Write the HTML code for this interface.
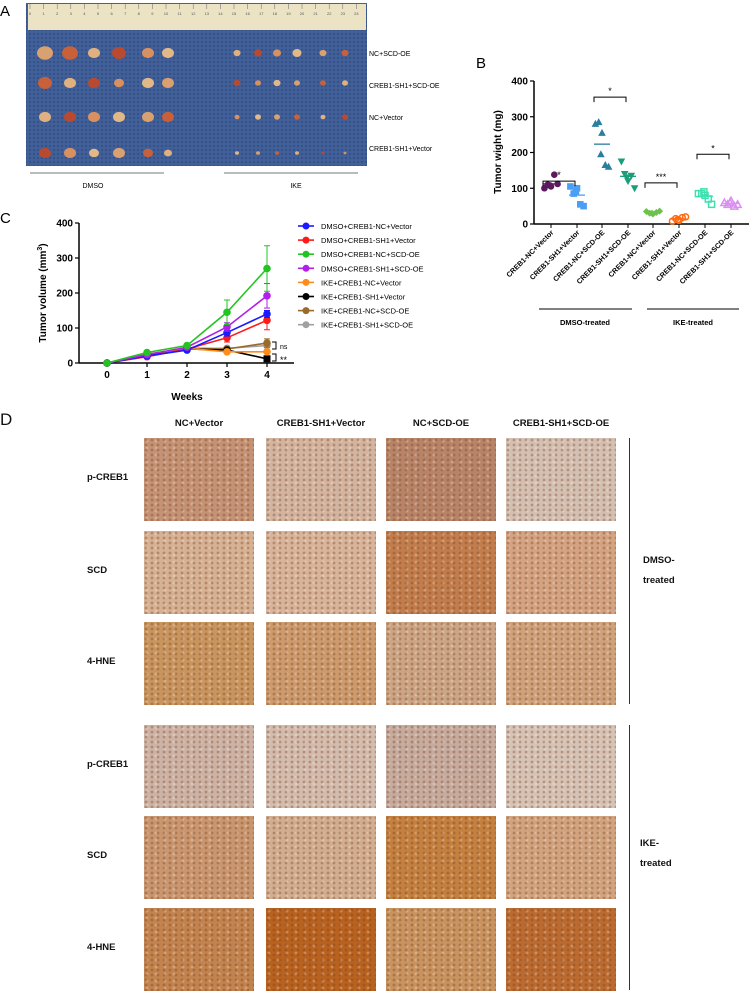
<!DOCTYPE html>
<html><head><meta charset="utf-8"><style>
body{margin:0;background:#fff;font-family:"Liberation Sans",sans-serif}
#fig{position:absolute;left:0;top:0;width:749px;height:991px;overflow:hidden}
.ihc{position:absolute;width:110px;height:83px}
.lbl{position:absolute;font-family:"Liberation Sans",sans-serif;color:#111}
</style></head><body>
<div id="fig">
<svg id="svg" width="749" height="991" style="position:absolute;left:0;top:0">
<defs>
<pattern id="mesh" width="4" height="4" patternUnits="userSpaceOnUse"><rect width="4" height="4" fill="#41609a"/><circle cx="2" cy="2" r="0.9" fill="#2e4677"/></pattern>
<pattern id="dots" width="7" height="6" patternUnits="userSpaceOnUse"><circle cx="2" cy="2" r="1.3" fill="#7a3f1c" opacity="0.35"/><circle cx="5.5" cy="4.5" r="1" fill="#fff" opacity="0.25"/></pattern>
</defs>
<!-- Panel A -->
<g>
<text x="0" y="16" font-size="15" font-family="Liberation Sans">A</text>
<rect x="26" y="3" width="341" height="163" fill="url(#mesh)"/>
<rect x="28" y="4" width="338" height="26" fill="#ece3c4"/>
<g id="ruler" font-size="4" fill="#555"></g>
<g id="tumors"></g>
<line x1="30" y1="173" x2="164" y2="173" stroke="#777" stroke-width="1"/>
<line x1="224" y1="173" x2="358" y2="173" stroke="#777" stroke-width="1"/>
<text x="93" y="188" font-size="7" text-anchor="middle">DMSO</text>
<text x="296" y="188" font-size="7" text-anchor="middle">IKE</text>
<text x="369" y="56" font-size="7">NC+SCD-OE</text>
<text x="369" y="88" font-size="7">CREB1-SH1+SCD-OE</text>
<text x="369" y="120" font-size="7">NC+Vector</text>
<text x="369" y="151" font-size="7">CREB1-SH1+Vector</text>
</g>
<g id="panelB"></g>
<g id="panelC"></g>
</svg>
<div id="panelD"></div>
</div>
<script>
// ===== Panel C data =====
const weeks = [0,1,2,3,4];
const cSeriesNames = ["DMSO+CREB1-NC+Vector","DMSO+CREB1-SH1+Vector","DMSO+CREB1-NC+SCD-OE","DMSO+CREB1-SH1+SCD-OE","IKE+CREB1-NC+Vector","IKE+CREB1-SH1+Vector","IKE+CREB1-NC+SCD-OE","IKE+CREB1-SH1+SCD-OE"];
const cColors = ["#1a1aff","#ff1a1a","#22c422","#b020e8","#ff8c1a","#000000","#9a6a2a","#a0a0a0"];
const cBlue = [0,20,37,87,140];
const cRed = [0,18,40,72,122];
const cGreen = [0,30,50,145,270];
const cPurple = [0,24,45,103,192];
const cOrange = [0,25,42,32,32];
const cBlack = [0,22,40,37,12];
const cBrown = [0,25,42,40,57];
const cGray = [0,25,42,42,50];
const cErrBlue = [0,3,4,10,10];
const cErrRed = [0,3,4,12,27];
const cErrGreen = [0,4,5,35,65];
const cErrPurple = [0,3,5,12,35];
const cErrOrange = [0,3,4,4,4];
const cErrBlack = [0,3,4,4,3];
const cErrBrown = [0,3,4,5,12];
const cErrGray = [0,3,4,5,6];
const cYTicks = [0,100,200,300,400];
// ===== Panel B data =====
const bCategories = ["CREB1-NC+Vector","CREB1-SH1+Vector","CREB1-NC+SCD-OE","CREB1-SH1+SCD-OE","CREB1-NC+Vector","CREB1-SH1+Vector","CREB1-NC+SCD-OE","CREB1-SH1+SCD-OE"];
const bG1 = [100,110,105,138,112,108];
const bG2 = [105,85,100,55,50,90];
const bG3 = [280,285,255,165,160,195];
const bG4 = [175,140,120,135,100,130];
const bG5 = [35,30,28,32,36,30];
const bG6 = [8,15,10,18,20,12];
const bG7 = [85,85,80,70,55,90];
const bG8 = [60,55,65,50,55,60];
const bYTicks = [0,100,200,300,400];
const bSig = [[0,1,"*",120],[2,3,"*",355],[4,5,"***",115],[6,7,"*",195]];

const NS="http://www.w3.org/2000/svg";
function mk(parent,tag,attrs){const e=document.createElementNS(NS,tag);for(const k in attrs)e.setAttribute(k,attrs[k]);parent.appendChild(e);return e;}

// ===== Panel A details =====
(function(){
 const r=document.getElementById('ruler');
 for(let i=0;i<=24;i++){const x=30+i*13.6;
  const t=mk(r,'line',{x1:x,y1:4,x2:x,y2:9,stroke:'#666','stroke-width':0.5});
  const tx=mk(r,'text',{x:x,y:15,'text-anchor':'middle'});tx.textContent=i;}
 const tm=document.getElementById('tumors');
 const rowsY=[53,83,117,153];
 const dx=[45,70,94,119,148,168], ix=[237,258,277,297,323,345];
 const dsz=[[8,8,6,7,6,6],[7,6,6,5,6,6],[6,6,6,6,6,6],[6,6,5,6,5,4]];
 const isz=[[3.5,4,4,4.5,3.5,3.5],[3.5,3,3.5,3,3,3],[2.5,3,3,3,2.5,3],[2,2,2,2,1.5,1.5]];
 const cols=['#d9a070','#c8603a','#e0b080','#b84a30','#d89060','#e2b888'];
 rowsY.forEach((y,ri)=>{dx.forEach((x,i)=>{const c=mk(tm,'ellipse',{cx:x,cy:y,rx:dsz[ri][i],ry:dsz[ri][i]*0.85,fill:cols[(i+ri)%6]});
  });
  ix.forEach((x,i)=>{const c=mk(tm,'ellipse',{cx:x,cy:y,rx:isz[ri][i],ry:isz[ri][i]*0.9,fill:cols[(i+ri+2)%6]});
  });});
})();

// ===== Panel B =====
(function(){
 const g=document.getElementById('panelB');
 const x0=534,y0=224,yTop=81;
 const xs=[551,577,602,628,653,679,705,731];
 const ys=v=>y0-(v/400)*(y0-yTop);
 const t=mk(g,'text',{x:476,y:68,'font-size':15});t.textContent='B';
 
 mk(g,'line',{x1:x0,y1:yTop,x2:x0,y2:y0,stroke:'#000','stroke-width':1.5});
 mk(g,'line',{x1:x0,y1:y0,x2:749,y2:y0,stroke:'#000','stroke-width':1.5});
 bYTicks.forEach(v=>{mk(g,'line',{x1:x0-4,y1:ys(v),x2:x0,y2:ys(v),stroke:'#000','stroke-width':1.2});
  const l=mk(g,'text',{x:x0-6,y:ys(v)+3.5,'font-size':10,'font-weight':'bold','text-anchor':'end'});l.textContent=v;
  });
 const yl=mk(g,'text',{x:0,y:0,'font-size':10,'font-weight':'bold','text-anchor':'middle',transform:'translate(501,152) rotate(-90)'});
 yl.textContent='Tumor wight (mg)';
 bCategories.forEach((c,i)=>{mk(g,'line',{x1:xs[i],y1:y0,x2:xs[i],y2:y0+4,stroke:'#000','stroke-width':1});
  const l=mk(g,'text',{x:0,y:0,'font-size':7.2,'font-weight':'bold','text-anchor':'end',transform:`translate(${xs[i]+3},${y0+9}) rotate(-45)`});
  l.textContent=c;});
 mk(g,'line',{x1:539,y1:309,x2:632,y2:309,stroke:'#000','stroke-width':1});
 mk(g,'line',{x1:647,y1:309,x2:739,y2:309,stroke:'#000','stroke-width':1});
 let gl=mk(g,'text',{x:585,y:325,'font-size':7.5,'font-weight':'bold','text-anchor':'middle'});gl.textContent='DMSO-treated';
 
 gl=mk(g,'text',{x:693,y:325,'font-size':7.5,'font-weight':'bold','text-anchor':'middle'});gl.textContent='IKE-treated';
 
 const groups=[bG1,bG2,bG3,bG4,bG5,bG6,bG7,bG8];
 const colors=['#5b1a5e','#4a9ff5','#2a7f9e','#1a9e7a','#6cc24a','#ff6a13','#3fe0b0','#d98ef0'];
 const offs=[-6,-3,0,3,6,-1];
 groups.forEach((arr,gi)=>{
  const col=colors[gi];
  arr.forEach((v,j)=>{const cx=xs[gi]+offs[j]*1.1, cy=ys(v);let m;
   if(gi===0) m=mk(g,'circle',{cx,cy,r:3.3,fill:col});
   else if(gi===1) m=mk(g,'rect',{x:cx-3.3,y:cy-3.3,width:6.6,height:6.6,fill:col});
   else if(gi===2) m=mk(g,'polygon',{points:`${cx},${cy-4} ${cx-3.8},${cy+3} ${cx+3.8},${cy+3}`,fill:col});
   else if(gi===3) m=mk(g,'polygon',{points:`${cx},${cy+4} ${cx-3.8},${cy-3} ${cx+3.8},${cy-3}`,fill:col});
   else if(gi===4) m=mk(g,'polygon',{points:`${cx},${cy-3.5} ${cx+3.5},${cy} ${cx},${cy+3.5} ${cx-3.5},${cy}`,fill:col});
   else if(gi===5) m=mk(g,'circle',{cx,cy,r:3,fill:'none',stroke:col,'stroke-width':1.5});
   else if(gi===6) m=mk(g,'rect',{x:cx-3,y:cy-3,width:6,height:6,fill:'none',stroke:col,'stroke-width':1.5});
   else m=mk(g,'polygon',{points:`${cx},${cy-3.5} ${cx-3.5},${cy+3} ${cx+3.5},${cy+3}`,fill:'none',stroke:col,'stroke-width':1.5});
   
   });
  const mean=arr.reduce((a,b)=>a+b,0)/arr.length;
  const ml=mk(g,'line',{x1:xs[gi]-8,y1:ys(mean),x2:xs[gi]+8,y2:ys(mean),stroke:col,'stroke-width':1.3});
  });
 bSig.forEach(s=>{const a=xs[s[0]]-8,b=xs[s[1]]-2,y=ys(s[3]);
  mk(g,'polyline',{points:`${a},${y+5} ${a},${y} ${b},${y} ${b},${y+5}`,fill:'none',stroke:'#000','stroke-width':1});
  const st=mk(g,'text',{x:(a+b)/2,y:y-3,'font-size':9,'text-anchor':'middle'});st.textContent=s[2];
  });
})();

// ===== Panel C =====
(function(){
 const g=document.getElementById('panelC');
 const x0=79,y0=363,yTop=223;
 const xw=w=>107+w*40;
 const ys=v=>y0-(v/400)*(y0-yTop);
 const t=mk(g,'text',{x:0,y:223,'font-size':15});t.textContent='C';
 
 mk(g,'line',{x1:x0,y1:yTop,x2:x0,y2:y0,stroke:'#000','stroke-width':1.5});
 mk(g,'line',{x1:x0,y1:y0,x2:294,y2:y0,stroke:'#000','stroke-width':1.5});
 cYTicks.forEach(v=>{mk(g,'line',{x1:x0-4,y1:ys(v),x2:x0,y2:ys(v),stroke:'#000','stroke-width':1.2});
  const l=mk(g,'text',{x:x0-6,y:ys(v)+3.5,'font-size':10,'font-weight':'bold','text-anchor':'end'});l.textContent=v;
  });
 weeks.forEach(w=>{mk(g,'line',{x1:xw(w),y1:y0,x2:xw(w),y2:y0+4,stroke:'#000','stroke-width':1.2});
  const l=mk(g,'text',{x:xw(w),y:y0+15,'font-size':10,'font-weight':'bold','text-anchor':'middle'});l.textContent=w;
  });
 let tl=mk(g,'text',{x:187,y:400,'font-size':10,'font-weight':'bold','text-anchor':'middle'});tl.textContent='Weeks';
 
 tl=mk(g,'text',{x:0,y:0,'font-size':10,'font-weight':'bold','text-anchor':'middle',transform:'translate(46,293) rotate(-90)'});
 tl.innerHTML='Tumor volume (mm<tspan dy="-4" font-size="7">3</tspan><tspan dy="4">)</tspan>';
 
 const series=[cBlue,cRed,cGreen,cPurple,cOrange,cBlack,cBrown,cGray];
 const errs=[cErrBlue,cErrRed,cErrGreen,cErrPurple,cErrOrange,cErrBlack,cErrBrown,cErrGray];
 const order=[7,6,5,4,1,0,3,2];
 order.forEach(si=>{const s=series[si],col=cColors[si];
  s.forEach((v,i)=>{if(errs[si][i]>2){const x=xw(weeks[i]);
   mk(g,'line',{x1:x,y1:ys(v-errs[si][i]),x2:x,y2:ys(v+errs[si][i]),stroke:col,'stroke-width':1});
   mk(g,'line',{x1:x-3,y1:ys(v+errs[si][i]),x2:x+3,y2:ys(v+errs[si][i]),stroke:col,'stroke-width':1});
   mk(g,'line',{x1:x-3,y1:ys(v-errs[si][i]),x2:x+3,y2:ys(v-errs[si][i]),stroke:col,'stroke-width':1});}});
  const ln=mk(g,'polyline',{points:s.map((v,i)=>xw(weeks[i])+','+ys(v)).join(' '),fill:'none',stroke:col,'stroke-width':1.6});
  
  s.forEach((v,i)=>{const m=(si===5&&i===4)?mk(g,'rect',{x:xw(weeks[i])-3.5,y:ys(v)-3.5,width:7,height:7,fill:col}):mk(g,'circle',{cx:xw(weeks[i]),cy:ys(v),r:3.8,fill:col});
   });});
 // brackets
 mk(g,'polyline',{points:'272,342 276,342 276,349 272,349',fill:'none',stroke:'#000','stroke-width':1});
 let s=mk(g,'text',{x:280,y:349,'font-size':7});s.textContent='ns';
 
 mk(g,'polyline',{points:'272,354 276,354 276,361 272,361',fill:'none',stroke:'#000','stroke-width':1});
 s=mk(g,'text',{x:280,y:363,'font-size':9});s.textContent='**';
 
 // legend
 cSeriesNames.forEach((n,i)=>{const y=226+i*14.1;
  const le=mk(g,'g',{});
  mk(le,'line',{x1:298,y1:y,x2:314,y2:y,stroke:cColors[i],'stroke-width':1.6});
  mk(le,'circle',{cx:306,cy:y,r:3.5,fill:cColors[i]});
  const tx=mk(le,'text',{x:321,y:y+3,'font-size':7.5});tx.textContent=n;});
})();

// ===== Panel D =====
(function(){
 const d=document.getElementById('panelD');
 function lbl(txt,x,y,size,bold,name,anchor){const e=document.createElement('div');e.className='lbl';e.textContent=txt;
  e.style.left=x+'px';e.style.top=y+'px';e.style.fontSize=size+'px';if(bold)e.style.fontWeight='bold';
  if(anchor)e.style.transform='translateX(-50%)';e.style.whiteSpace='nowrap';
  d.appendChild(e);}
 lbl('D',0,410,17,false,'panel-d-label');
 const colsX=[144,266,386,506];
 const heads=['NC+Vector','CREB1-SH1+Vector','NC+SCD-OE','CREB1-SH1+SCD-OE'];
 heads.forEach((h,i)=>lbl(h,colsX[i]+55,418,9.5,true,'column-header',true));
 const rowsY=[438,531,622,725,816,908];
 const rowLbl=['p-CREB1','SCD','4-HNE','p-CREB1','SCD','4-HNE'];
 rowsY.forEach((y,i)=>lbl(rowLbl[i],87,y+34,9.5,true,'row-label'));
 const cols=[
  ['#c49274','#d2b4a0','#b88468','#d4c0b2'],
  ['#d6b194','#d8b49b','#c27d4c','#d3a382'],
  ['#c9955f','#cc9a6c','#cba584','#cfa27c'],
  ['#cdb3a5','#d3bcae','#c6ab9e','#d6c3b6'],
  ['#c99670','#d2ad90','#c3803f','#d1a47f'],
  ['#c2834e','#b9621f','#c8935f','#bb6b30']];
 rowsY.forEach((y,r)=>colsX.forEach((x,c)=>{const e=document.createElement('div');e.className='ihc';
  e.style.left=x+'px';e.style.top=y+'px';
  e.style.background=`radial-gradient(circle at 2px 2px, rgba(120,60,25,0.35) 1.2px, transparent 1.6px) 0 0/6px 5px, radial-gradient(circle at 3px 3px, rgba(255,255,255,0.25) 1.2px, transparent 1.8px) 0 0/9px 7px, ${cols[r][c]}`;
  d.appendChild(e);}));
 const ln=(y1,y2,n)=>{const e=document.createElement('div');e.style.cssText=`position:absolute;left:629px;top:${y1}px;width:1px;height:${y2-y1}px;background:#333`;
  d.appendChild(e);};
 ln(438,704,'dmso-divider');ln(725,990,'ike-divider');
 lbl('DMSO-',643,555,9.5,true,'dmso-treated-label');lbl('treated',643,575,9.5,true,'dmso-treated-label-2');
 lbl('IKE-',640,838,9.5,true,'ike-treated-label');lbl('treated',640,858,9.5,true,'ike-treated-label-2');
})();
</script>
</body></html>
